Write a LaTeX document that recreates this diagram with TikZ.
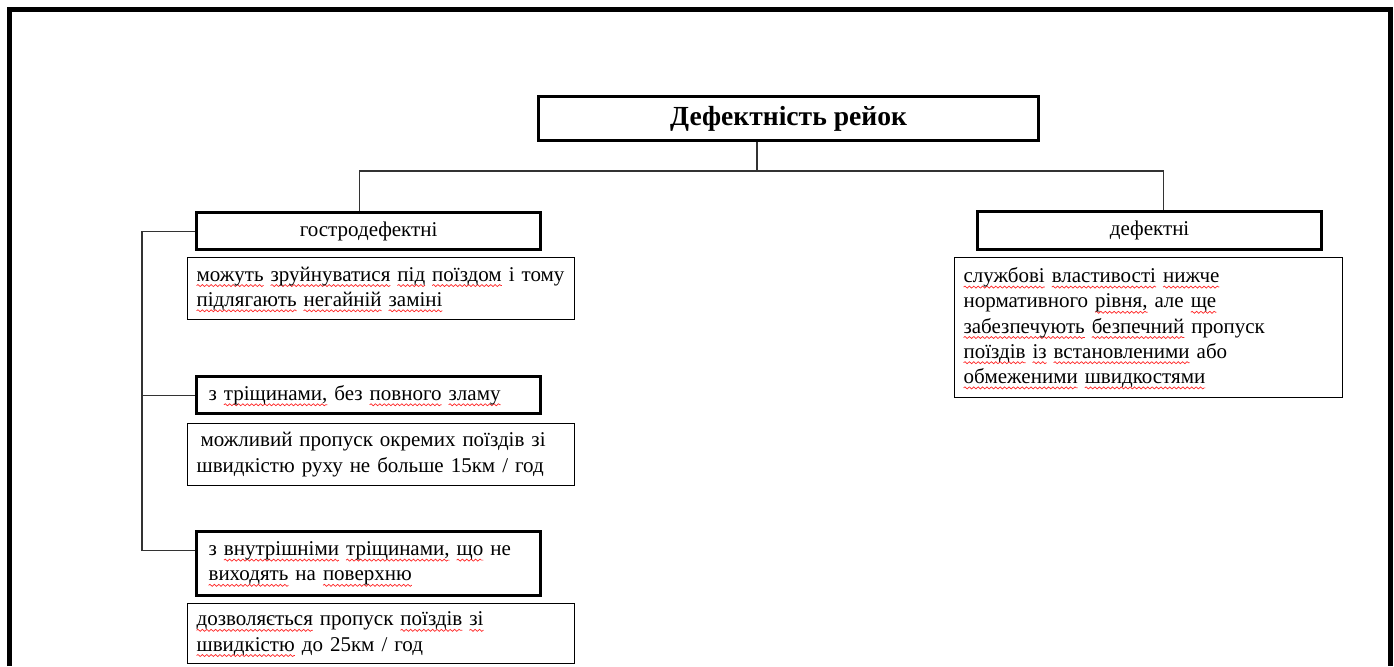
\documentclass[tikz,border=0pt]{standalone}
\usepackage{fontspec}
\setmainfont{Liberation Serif}
\usetikzlibrary{decorations.pathmorphing}
\newsavebox{\sqbox}
\newcommand{\sq}[1]{\leavevmode\sbox{\sqbox}{#1}\rlap{\tikz[overlay, baseline=0pt]
    \draw[red!85, line width=0.35pt, decorate, decoration={snake, amplitude=0.5pt, segment length=2.2pt}]
    (0pt,-2.2pt) -- (\wd\sqbox,-2.2pt);}\usebox{\sqbox}}
\begin{document}
\begin{tikzpicture}[x=0.5pt, y=-0.5pt,
    every node/.style={font=\fontsize{10.5}{12.6}\selectfont},
    header/.style={draw, line width=1.6pt, minimum width=172pt, inner sep=0pt, anchor=north west},
    note/.style={draw, line width=0.6pt, anchor=north west, align=left, inner xsep=4.5pt, inner ysep=0pt, text width=184.5pt},
    link/.style={line width=0.6pt, draw=black!80}]

        \useasboundingbox (0,0) rectangle (1394,666);

        % ~~~~ Рамка ~~~~%
        \draw[line width=2.5pt] (9.5,666) |- (1390.5,9.5) -- (1390.5,666);

        % ~~~~ Заголовок ~~~~%
        \node[draw, line width=1.6pt, minimum width=250pt, minimum height=22pt, anchor=north west,
            font=\fontsize{13.8}{16}\selectfont\bfseries] (rails) at (537,95) {Дефектність рейок};

        % ~~~~ Групи дефектів ~~~~%
        \node[header, minimum height=18.5pt] (acute) at (195,211) {гостродефектні};
        \node[header, minimum height=19pt] (defect) at (976,210) {дефектні};
        \node[header, minimum height=18.5pt, align=left, text width=160pt, inner xsep=6pt] (cracks) at (195,375)
            {з \sq{тріщинами,} без \sq{повного} \sq{зламу}};
        \node[header, minimum height=32pt, align=left, text width=160pt, inner xsep=6pt] (internal) at (195,530)
            {з \sq{внутрішніми} \sq{тріщинами,} \sq{що} не\\ \sq{виходять} на \sq{поверхню}};

        % ~~~~ Пояснення ~~~~%
        \node[note, minimum height=31pt] (note1) at (187,257)
            {\sq{можуть} \sq{зруйнуватися} \sq{під} \sq{поїздом} і~тому\\ \sq{підлягають} \sq{негайній} \sq{заміні}};
        \node[note, minimum height=31pt] (note2) at (187,423)
            {\hspace*{2pt}можливий пропуск окремих поїздів зі\\ швидкістю руху не больше 15км / год};
        \node[note, minimum height=30pt] (note3) at (187,603)
            {\sq{дозволяється} пропуск \sq{поїздів} \sq{зі}\\ \sq{швидкістю} до 25км / год};
        \node[note, minimum height=70pt, text width=185pt] (note4) at (954,257)
            {\sq{службові} \sq{властивості} \sq{нижче}\\ нормативного \sq{рівня,} але \sq{ще}\\
             \sq{забезпечують} \sq{безпечний} пропуск\\ \sq{поїздів} \sq{із} \sq{встановленими} або\\
             \sq{обмеженими} \sq{швидкостями}};

        % ~~~~ Лінії зв'язку ~~~~%
        \coordinate (fork) at (757,171);
        \coordinate (rail) at (142,0);
        \coordinate (tail) at ([yshift=6.5pt]internal.west);
        \draw[link] (rails.south -| fork) -- (fork);
        \draw[link] ([xshift=-4.5pt]acute.north) |- (fork) -| ([xshift=7pt]defect.north);
        \draw[link] (acute.west) -| (rail |- tail) -- (tail);
        \draw[link] (rail |- cracks.west) -- (cracks.west);
    \end{tikzpicture}
\end{document}
